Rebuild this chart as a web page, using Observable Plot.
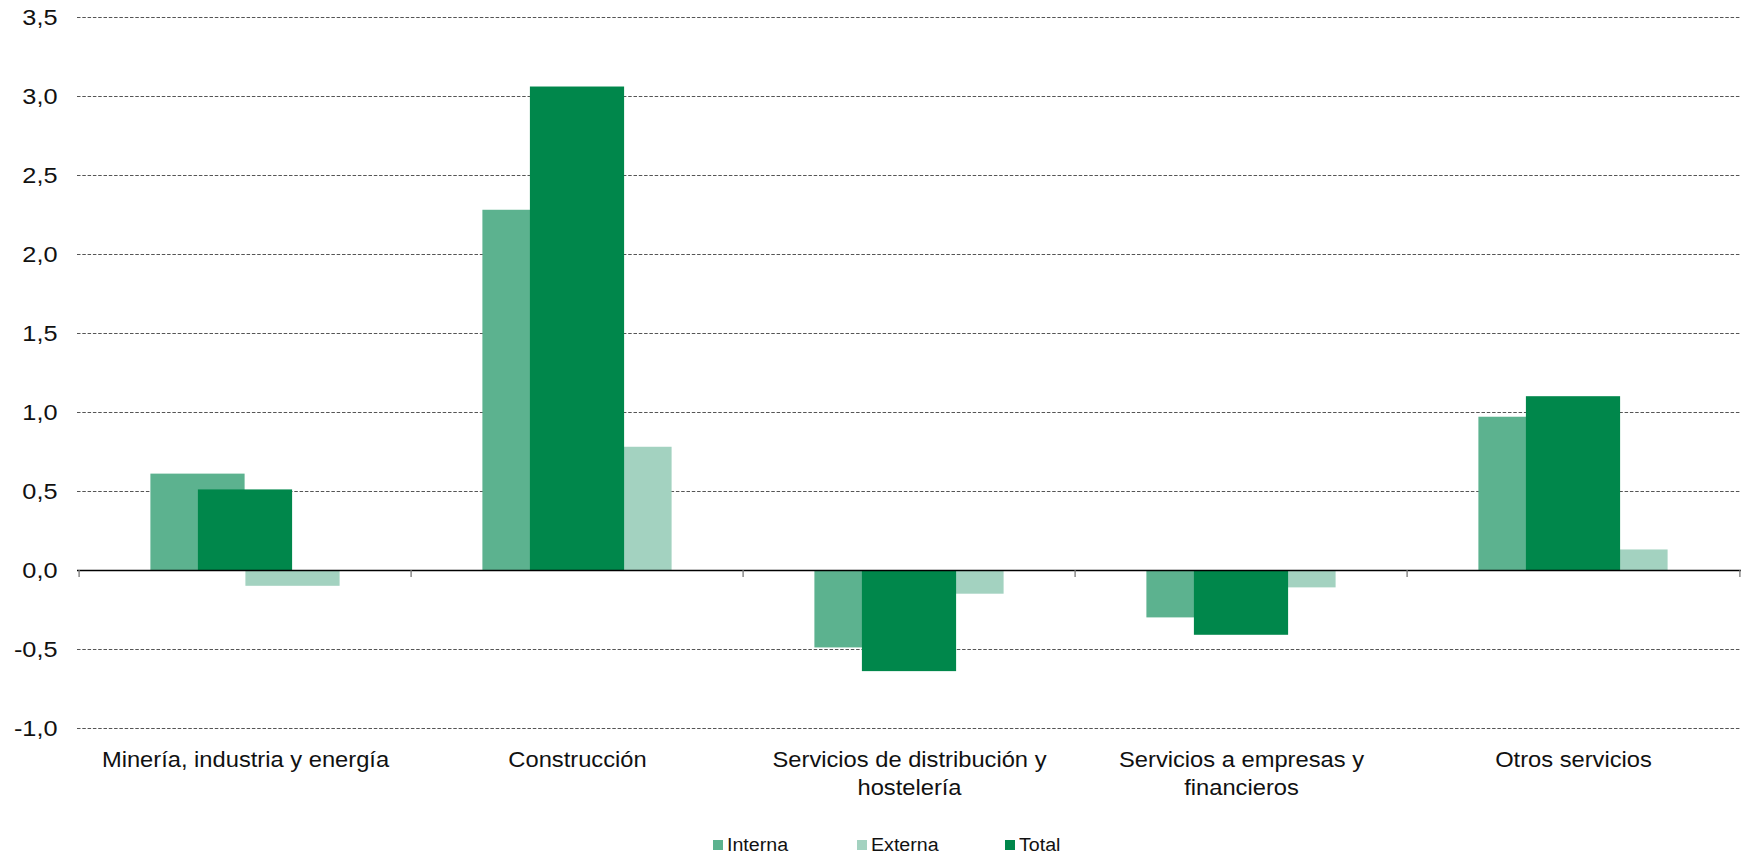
<!DOCTYPE html>
<html>
<head>
<meta charset="utf-8">
<script src="https://cdn.jsdelivr.net/npm/d3@7"></script>
<script src="https://cdn.jsdelivr.net/npm/@observablehq/plot@0.6"></script>
<style>
  html, body { margin: 0; padding: 0; background: #fff; }
  #wrap { position: relative; width: 1746px; height: 859px; font-family: "Liberation Sans", Arial, sans-serif; overflow: hidden; }
  #chart svg { display: block; }
  .li { position: absolute; top: 835px; height: 20px; line-height: 20px; font-size: 18px; color: #111; }
  .sw { position: absolute; left: 0; top: 5px; width: 10px; height: 10px; }
  .tx { position: absolute; left: 14px; top: 0; white-space: nowrap; transform: scaleX(1.09); transform-origin: left center; }
</style>
</head>
<body>
<div id="wrap">
  <div id="chart"></div>
  <div id="legend"></div>
</div>
<script>
// ---- data ----
const categories = [
  "Minería, industria y energía",
  "Construcción",
  "Servicios de distribución y\nhostelería",
  "Servicios a empresas y\nfinancieros",
  "Otros servicios"
];
const interna = [0.61, 2.28, -0.49, -0.30, 0.97];
const externa = [-0.10, 0.78, -0.15, -0.11, 0.13];
const total   = [0.51, 3.06, -0.64, -0.41, 1.10];
const yTicks = [-1.0, -0.5, 0.0, 0.5, 1.0, 1.5, 2.0, 2.5, 3.0, 3.5];
const seriesNames = ["Interna", "Externa", "Total"];
const seriesColors = ["#5cb28f", "#a3d2c0", "#00874b"];

const rows = (vals) => categories.map((c, i) => ({cat: c, value: vals[i]}));
const fmt = (d) => d.toFixed(1).replace(".", ",");

const W = 1746, H = 815;
const mL = 77, mR = 5, mT = 17, mB = 87;
const bw = (W - mL - mR) / categories.length; // band width in px
const barW = 95;
const half = bw / 2;

const chart = Plot.plot({
  width: W,
  height: H,
  marginTop: mT,
  marginBottom: mB,
  marginLeft: mL,
  marginRight: mR,
  style: { fontFamily: '"Liberation Sans", Arial, sans-serif', color: "#111", background: "white", overflow: "visible" },
  x: { type: "band", domain: categories, padding: 0, axis: null },
  y: { domain: [-1, 3.5], axis: null },
  marks: [
    Plot.ruleY(yTicks.filter(d => d !== 0), { stroke: "#555", strokeWidth: 1, strokeDasharray: "3.5,1.8" }),
    Plot.barY(rows(interna), { x: "cat", y: "value", fill: seriesColors[0], insetLeft: half - barW, insetRight: half }),
    Plot.barY(rows(externa), { x: "cat", y: "value", fill: seriesColors[1], insetLeft: half, insetRight: half - barW }),
    Plot.barY(rows(total),   { x: "cat", y: "value", fill: seriesColors[2], insetLeft: half - barW / 2, insetRight: half - barW / 2 }),
    Plot.ruleY([0], { stroke: "#000", strokeWidth: 1.4 }),
    Plot.ruleX(categories, { x: d => d, y1: 0, y2: 0, insetBottom: -7, dx: -half, stroke: "#777", strokeWidth: 1.3 }),
    Plot.ruleX(categories.slice(-1), { x: d => d, y1: 0, y2: 0, insetBottom: -7, dx: half, stroke: "#777", strokeWidth: 1.3 }),
    Plot.axisY(yTicks, { tickSize: 0, tickPadding: 20, tickFormat: fmt, fontSize: 22, label: null }),
    Plot.axisX({ tickSize: 0, tickPadding: 18.5, fontSize: 22, lineHeight: 1.27, label: null })
  ]
});

document.getElementById("chart").appendChild(chart);

function stretch(t, s) {
  const tr = t.getAttribute("transform");
  if (tr) t.setAttribute("transform", tr + ` scale(${s},1)`);
  else {
    const x = +(t.getAttribute("x") || 0);
    t.setAttribute("transform", `translate(${x},0) scale(${s},1) translate(${-x},0)`);
  }
}
chart.querySelectorAll('g[aria-label="x-axis tick label"] text').forEach(t => stretch(t, 1.078));
chart.querySelectorAll('g[aria-label="y-axis tick label"] text').forEach(t => stretch(t, 1.15));

// ---- legend (HTML, below the SVG) ----
const legendLefts = [713, 856.7, 1005];
const legend = document.getElementById("legend");
seriesNames.forEach((name, i) => {
  const item = document.createElement("div");
  item.className = "li";
  item.style.left = legendLefts[i] + "px";
  const sw = document.createElement("span");
  sw.className = "sw";
  sw.style.background = seriesColors[i];
  const tx = document.createElement("span");
  tx.className = "tx";
  tx.textContent = name;
  item.appendChild(sw);
  item.appendChild(tx);
  legend.appendChild(item);
});
</script>
</body>
</html>
